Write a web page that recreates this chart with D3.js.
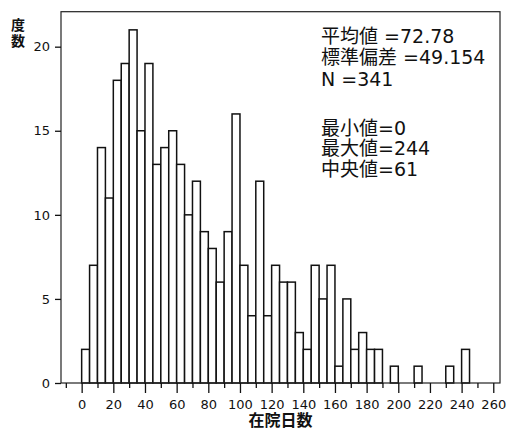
<!DOCTYPE html>
<html>
<head>
<meta charset="utf-8">
<script src="https://cdn.jsdelivr.net/npm/d3@7/dist/d3.min.js"></script>
<style>
body { margin: 0; background: #fff; }
text { font-family: "DejaVu Sans", "Noto Sans CJK JP", sans-serif; fill: #111; }
</style>
</head>
<body>
<div id="chart"></div>
<script>
// histogram of length of stay, bins of 5 days
var binStarts = [0,5,10,15,20,25,30,35,40,45,50,55,60,65,70,75,80,85,90,95,100,105,110,115,120,
	125,130,135,140,145,150,155,160,165,170,175,180,185,190,195,200,205,210,215,220,225,230,235,240];
var binWidth = 5;
var counts = [2,7,14,11,18,19,21,15,19,13,14,15,13,10,12,9,8,6,9,16,7,4,12,4,7,
	6,6,3,2,7,5,7,1,5,2,3,2,2,0,1,0,0,1,0,0,0,1,0,2];

var xMajorTicks = [0,20,40,60,80,100,120,140,160,180,200,220,240,260];
var xMinorTicks = [-10,10,30,50,70,90,110,130,150,170,190,210,230,250];
var yTicks = [0,5,10,15,20];

var statLines = ["平均値 =72.78", "標準偏差 =49.154", "N =341", "最小値=0", "最大値=244", "中央値=61"];
var xTitle = "在院日数";
var yTitle = ["度", "数"];

function histogram(){
	var margin = {top: 11.7, right: 10, bottom: 54, left: 61};
	var width = 439, height = 371.3;
	var svg = d3.select("#chart")
		.append("svg")
		.attr("width", 510)
		.attr("height", 437)
		.append("g")
		.attr("transform", "translate(" + margin.left + "," + margin.top + ")");

	var x = d3.scaleLinear().domain([-13.05, 264.25]).range([0, width]);
	var y = d3.scaleLinear().domain([0, 22.08]).range([height, 0]);

	var data = binStarts.map(function(s, i){ return {x0: s, x1: s + binWidth, n: counts[i]}; });

	// bars
	svg.append("g")
		.selectAll("rect")
		.data(data.filter(function(d){ return d.n > 0; }))
		.enter()
		.append("rect")
		.attr("x", function(d){ return x(d.x0); })
		.attr("y", function(d){ return y(d.n); })
		.attr("width", function(d){ return x(d.x1) - x(d.x0); })
		.attr("height", function(d){ return height - y(d.n); })
		.attr("fill", "#fff")
		.attr("stroke", "#111")
		.attr("stroke-width", 1.5);

	// frame
	svg.append("rect")
		.attr("width", width)
		.attr("height", height)
		.attr("fill", "none")
		.attr("stroke", "#222")
		.attr("stroke-width", 1.2);

	// x axis
	var xa = svg.append("g")
		.attr("transform", "translate(0," + height + ")")
		.call(d3.axisBottom(x).tickValues(xMajorTicks).tickSize(10).tickPadding(7));
	var xm = svg.append("g")
		.attr("transform", "translate(0," + height + ")")
		.call(d3.axisBottom(x).tickValues(xMinorTicks).tickSize(5).tickFormat(""));
	// y axis
	var ya = svg.append("g")
		.call(d3.axisLeft(y).tickValues(yTicks).tickSize(6).tickPadding(5));

	[xa, xm, ya].forEach(function(g){
		g.select(".domain").remove();
		g.selectAll(".tick line").attr("stroke", "#111").attr("stroke-width", 1.3);
		g.selectAll(".tick text")
			.style("font-family", "'DejaVu Sans', sans-serif")
			.style("font-size", "13px")
			.attr("fill", "#111");
	});

	// axis titles
	svg.append("text")
		.attr("x", width / 2)
		.attr("y", height + 43)
		.attr("text-anchor", "middle")
		.style("font-size", "16px")
		.style("font-weight", "bold")
		.text(xTitle);

	svg.selectAll(".ytitle")
		.data(yTitle)
		.enter()
		.append("text")
		.attr("class", "ytitle")
		.attr("x", -43)
		.attr("y", function(d, i){ return 18 + i * 16; })
		.attr("text-anchor", "middle")
		.style("font-size", "14px")
		.style("font-weight", "bold")
		.text(function(d){ return d; });

	// stats box text
	var lineY = [43, 64, 86, 135, 155, 176];
	svg.selectAll(".stat")
		.data(statLines)
		.enter()
		.append("text")
		.attr("class", "stat")
		.attr("x", 321 - margin.left)
		.attr("y", function(d, i){ return lineY[i] - margin.top; })
		.style("font-size", "19px")
		.text(function(d){ return d; });
}

histogram();
</script>
</body>
</html>
